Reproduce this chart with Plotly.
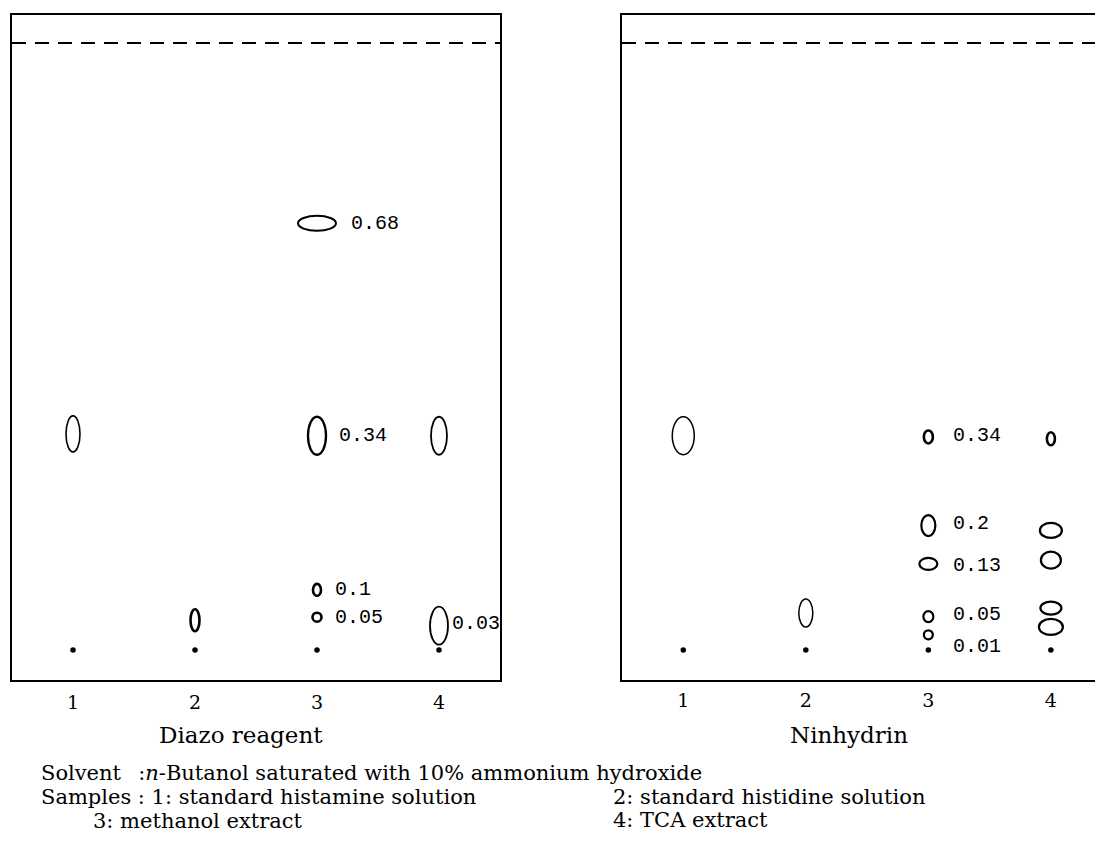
import plotly.graph_objects as go

# ---------------- data ----------------
lanes = [1, 2, 3, 4]
lane_labels = ["1", "2", "3", "4"]
panel_titles = ["Diazo reagent", "Ninhydrin"]
front_rf = 1.0

# origin spots (lane, Rf)
diazo_origin_lane = [1, 2, 3, 4]
diazo_origin_rf = [0.0, 0.0, 0.0, 0.0]
ninh_origin_lane = [1, 2, 3, 4]
ninh_origin_rf = [0.0, 0.0, 0.0, 0.0]

# developed spots: lane and measured Rf position
diazo_spot_lane = [1, 2, 3, 3, 3, 3, 4, 4]
diazo_spot_rf = [0.356, 0.049, 0.703, 0.353, 0.099, 0.054, 0.353, 0.040]
ninh_spot_lane = [1, 2, 3, 4, 3, 3, 3, 3, 4, 4, 4, 4]
ninh_spot_rf = [0.353, 0.061, 0.351, 0.348, 0.205, 0.142, 0.055, 0.025, 0.197, 0.148, 0.069, 0.038]

# Rf value labels
diazo_label_lane = [3, 3, 3, 3, 4]
diazo_label_rf = [0.703, 0.353, 0.099, 0.054, 0.043]
diazo_label_text = ["0.68", "0.34", "0.1", "0.05", "0.03"]
ninh_label_lane = [3, 3, 3, 3, 3]
ninh_label_rf = [0.353, 0.208, 0.140, 0.058, 0.005]
ninh_label_text = ["0.34", "0.2", "0.13", "0.05", "0.01"]

footnote_lines = [
    ("Solvent\u2002 :<i>n</i>-Butanol saturated with 10% ammonium hydroxide", 40, 773),
    ("Samples : 1: standard histamine solution", 40, 797),
    ("2: standard histidine solution", 612, 797),
    ("3: methanol extract", 92, 821),
    ("4: TCA extract", 612, 820),
]

# ---------------- styles ----------------
W, H = 1095, 854
# spot outline sizes in pixels (width, height, line width)
diazo_spot_style = [(14, 36, 1.6), (9, 22, 2.6), (38, 15, 2.0), (18, 38, 2.3),
                    (8, 12, 2.6), (9, 9, 2.6), (16, 38, 1.8), (18, 38, 1.8)]
ninh_spot_style = [(22, 38, 1.5), (14, 28, 1.5), (9, 13, 2.6), (8, 13, 2.6),
                   (14, 21, 2.2), (18, 12, 2.2), (10, 11, 2.2), (9, 9, 2.2),
                   (22, 15, 2.2), (20, 17, 2.2), (21, 13, 2.2), (24, 16, 2.2)]
diazo_label_shift = [32, 20, 16, 16, 11]
ninh_label_shift = [23, 23, 23, 23, 23]

SERIF = "DejaVu Serif"
NUMFONT = "Liberation Mono"

fig = go.Figure()

y_range = [-30 / 607, 1 + 28 / 607]
y_dom = [(H - 680) / H, (H - 15) / H]

panels = [
    dict(xa="x", ya="y", ol=diazo_origin_lane, orf=diazo_origin_rf,
         sl=diazo_spot_lane, srf=diazo_spot_rf, ss=diazo_spot_style,
         ll=diazo_label_lane, lrf=diazo_label_rf, lt=diazo_label_text, ls=diazo_label_shift,
         title=panel_titles[0], title_x=2.38),
    dict(xa="x2", ya="y2", ol=ninh_origin_lane, orf=ninh_origin_rf,
         sl=ninh_spot_lane, srf=ninh_spot_rf, ss=ninh_spot_style,
         ll=ninh_label_lane, lrf=ninh_label_rf, lt=ninh_label_text, ls=ninh_label_shift,
         title=panel_titles[1], title_x=2.35),
]

shapes = []
annotations = []
for p in panels:
    fig.add_trace(go.Scatter(x=p["ol"], y=p["orf"], mode="markers",
                             marker=dict(color="black", size=5.5),
                             xaxis=p["xa"], yaxis=p["ya"], showlegend=False,
                             hoverinfo="skip"))
    for lane, rf, (w, h, lw) in zip(p["sl"], p["srf"], p["ss"]):
        shapes.append(dict(type="circle", xref=p["xa"], yref=p["ya"],
                           xsizemode="pixel", ysizemode="pixel",
                           xanchor=lane, yanchor=rf,
                           x0=-w / 2, x1=w / 2, y0=-h / 2, y1=h / 2,
                           line=dict(color="black", width=lw)))
    for lane, rf, txt, sh in zip(p["ll"], p["lrf"], p["lt"], p["ls"]):
        annotations.append(dict(x=lane, y=rf, xref=p["xa"], yref=p["ya"], text=txt,
                                showarrow=False, xanchor="left", yanchor="middle",
                                xshift=sh, font=dict(family=NUMFONT, size=20, color="black")))
    # solvent front
    shapes.append(dict(type="line", xref=p["xa"] + " domain", yref=p["ya"],
                       x0=0, x1=1, y0=front_rf, y1=front_rf,
                       line=dict(color="black", width=2, dash="14px,9px")))
    annotations.append(dict(x=p["title_x"], y=(H - 735) / H, xref=p["xa"], yref="paper",
                            text=p["title"], showarrow=False, xanchor="center",
                            yanchor="middle",
                            font=dict(family=SERIF, size=23, color="black")))

for txt, xp, yp in footnote_lines:
    annotations.append(dict(x=xp / W, y=(H - yp) / H, xref="paper", yref="paper",
                            text=txt, showarrow=False, xanchor="left", yanchor="middle",
                            borderpad=0,
                            font=dict(family=SERIF, size=21, color="black")))

axis_common = dict(showgrid=False, zeroline=False, ticks="",
                   linecolor="black", linewidth=2)

fig.update_layout(
    width=W, height=H,
    margin=dict(l=0, r=0, t=0, b=0),
    plot_bgcolor="white", paper_bgcolor="white",
    shapes=shapes, annotations=annotations,
    xaxis=dict(domain=[12 / W, 500 / W], range=[0.5, 4.5], showline=True, mirror=True,
               tickvals=lanes, ticktext=lane_labels, ticklabelstandoff=4,
               tickfont=dict(family=SERIF, size=19, color="black"), anchor="y", **axis_common),
    yaxis=dict(domain=y_dom, range=y_range, showline=True, mirror=True,
               showticklabels=False, anchor="x", **axis_common),
    xaxis2=dict(domain=[622 / W, 1.0], range=[0.5, 4.36], showline=True, mirror=True,
                tickvals=lanes, ticktext=lane_labels, ticklabelstandoff=2,
                tickfont=dict(family=SERIF, size=19, color="black"), anchor="y2", **axis_common),
    yaxis2=dict(domain=y_dom, range=y_range, showline=True, mirror=False,
                showticklabels=False, anchor="x2", **axis_common),
)

fig.write_html("out.html", config={"displayModeBar": False},
               post_script="document.body.style.margin='0';document.body.style.overflow='hidden';")
